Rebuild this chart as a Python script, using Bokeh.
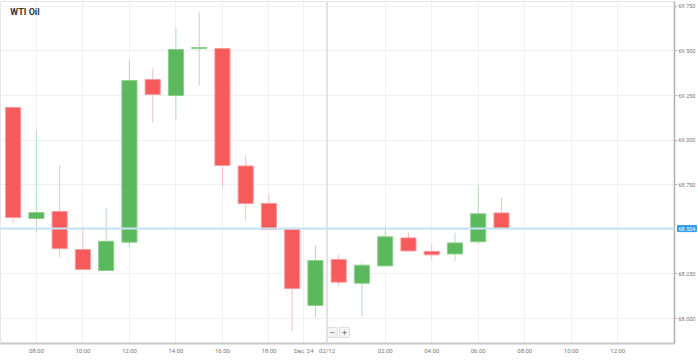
from bokeh.plotting import figure
from bokeh.models import Range1d, FixedTicker, Span, Label, PrintfTickFormatter, ColumnDataSource
from bokeh.core.properties import value
from bokeh.embed import file_html
from bokeh.resources import INLINE

# Hourly WTI Oil candles
candle_idx = list(range(22))
opens  = [69.183, 68.561, 68.600, 68.387, 68.269, 68.428, 69.340, 69.250, 69.513, 69.513, 68.855,
          68.645, 68.499, 68.073, 68.331, 68.198, 68.295, 68.452, 68.376, 68.362, 68.430, 68.592]
closes = [68.566, 68.594, 68.392, 68.275, 68.433, 69.334, 69.256, 69.508, 69.519, 68.858, 68.645,
          68.499, 68.168, 68.325, 68.204, 68.299, 68.458, 68.379, 68.357, 68.424, 68.587, 68.504]
highs  = [69.188, 69.059, 68.858, 68.516, 68.618, 69.446, 69.401, 69.631, 69.715, 69.513, 68.914,
          68.700, 68.499, 68.409, 68.359, 68.310, 68.520, 68.482, 68.419, 68.480, 68.747, 68.677]
lows   = [68.533, 68.482, 68.342, 68.270, 68.268, 68.400, 69.099, 69.120, 69.306, 68.734, 68.549,
          68.499, 67.929, 68.007, 68.179, 68.011, 68.295, 68.379, 68.331, 68.321, 68.419, 68.504]

x_tick_pos = [1, 3, 5, 7, 9, 11, 12.5, 13.5, 16, 18, 20, 22, 24, 26]
x_tick_labels = ["08:00", "10:00", "12:00", "14:00", "16:00", "18:00", "Dec '24", "02/12",
                 "02:00", "04:00", "06:00", "08:00", "10:00", "12:00"]
y_grid = [68.0, 68.25, 68.5, 68.75, 69.0, 69.25, 69.5, 69.75]
y_axis_ticks = [68.0, 68.25, 68.75, 69.0, 69.25, 69.5, 69.75]
day_break = 13.5
current_price = 68.504
title_text = "WTI Oil"

RED = "#f65a5b"
RED_LINE = "#f89a9a"
RED_WICK = "#f9c0c0"
GREEN = "#5cb85c"
GREEN_LINE = "#8ccf8c"
GREEN_WICK = "#b4dfb4"

up = [c >= o for o, c in zip(opens, closes)]
src = ColumnDataSource(dict(
    x=candle_idx,
    top=[max(o, c) for o, c in zip(opens, closes)],
    bottom=[min(o, c) for o, c in zip(opens, closes)],
    high=highs, low=lows,
    fill=[GREEN if u else RED for u in up],
    line=[GREEN_LINE if u else RED_LINE for u in up],
    wick=[GREEN_WICK if u else RED_WICK for u in up],
))

xr = Range1d(-0.544, 28.44)
yr = Range1d(67.860, 69.777)

p = figure(width=698, height=361, x_range=xr, y_range=yr, y_axis_location="right",
           output_backend="svg", toolbar_location=None,
           min_border_left=0, min_border_right=22, min_border_top=1, min_border_bottom=18)
p.background_fill_color = "white"
p.border_fill_color = "white"
p.outline_line_color = "#e6e6e6"

# grids
p.xgrid.ticker = FixedTicker(ticks=x_tick_pos)
p.ygrid.ticker = FixedTicker(ticks=y_grid)
p.xgrid.grid_line_color = "#f0f0f0"
p.ygrid.grid_line_color = "#f0f0f0"

# axes
p.xaxis.ticker = FixedTicker(ticks=x_tick_pos)
p.xaxis.major_label_overrides = {k: v for k, v in zip(x_tick_pos, x_tick_labels)}
p.xaxis.major_tick_line_color = None
p.xaxis.major_tick_out = 0
p.xaxis.major_tick_in = 0
p.xaxis.minor_tick_line_color = None
p.xaxis.axis_line_color = "#c8c8c8"
p.xaxis.axis_line_width = 2
p.xaxis.major_label_text_font = "Roboto"
p.xaxis.major_label_text_font_size = "6px"
p.xaxis.major_label_text_color = "#777777"
p.xaxis.major_label_standoff = 3

p.yaxis.ticker = FixedTicker(ticks=y_axis_ticks)
p.yaxis.formatter = PrintfTickFormatter(format="%.3f")
p.yaxis.major_tick_out = 3
p.yaxis.major_tick_in = 0
p.yaxis.major_tick_line_color = "#bbbbbb"
p.yaxis.minor_tick_line_color = None
p.yaxis.axis_line_color = "#b0b0b0"
p.yaxis.axis_line_width = 1.5
p.yaxis.major_label_text_font = "Roboto"
p.yaxis.major_label_text_font_size = "5.5px"
p.yaxis.major_label_text_color = "#777777"
p.yaxis.major_label_standoff = 1

# day separator and current price line
p.add_layout(Span(location=day_break, dimension="height", line_color="#e2e2e2", line_width=2))
p.add_layout(Span(location=current_price, dimension="width", line_color="#c5e3f6", line_width=2))

# candles
p.segment(x0="x", x1="x", y0="low", y1="high", line_color="wick", line_width=1, source=src)
p.vbar(x="x", width=0.65, top="top", bottom="bottom", fill_color="fill", line_color="line",
       line_width=1, source=src)

# title
p.add_layout(Label(x=xr.start + 0.42, y=yr.end - 0.06, text=title_text, text_font="Roboto",
                   text_font_style="bold", text_font_size="9px", text_color="#333333",
                   text_baseline="middle"))

# current price tag drawn as an overlay text glyph next to the right axis
tag_src = ColumnDataSource(dict(x=[xr.end], y=[current_price], t=["%.3f" % current_price]))
p.text(x="x", y="y", text="t", source=tag_src, x_offset=3, level="overlay",
       text_font=value("Roboto"), text_font_size="5.5px", text_color="white",
       text_baseline="middle", background_fill_color="#2f9be9",
       border_line_color="#2f9be9", padding=1)

# zoom buttons
for xi, t in [(13.72, "\u2212"), (14.25, "+")]:
    p.add_layout(Label(x=xi, y=yr.start + 0.062, text=t, text_font="DejaVu Sans",
                       text_font_size="7px", text_color="#444444", text_align="center",
                       text_baseline="middle", background_fill_color="#f4f4f4",
                       border_line_color="#dddddd", padding=2))

open("out.html", "w").write(file_html(p, INLINE))
